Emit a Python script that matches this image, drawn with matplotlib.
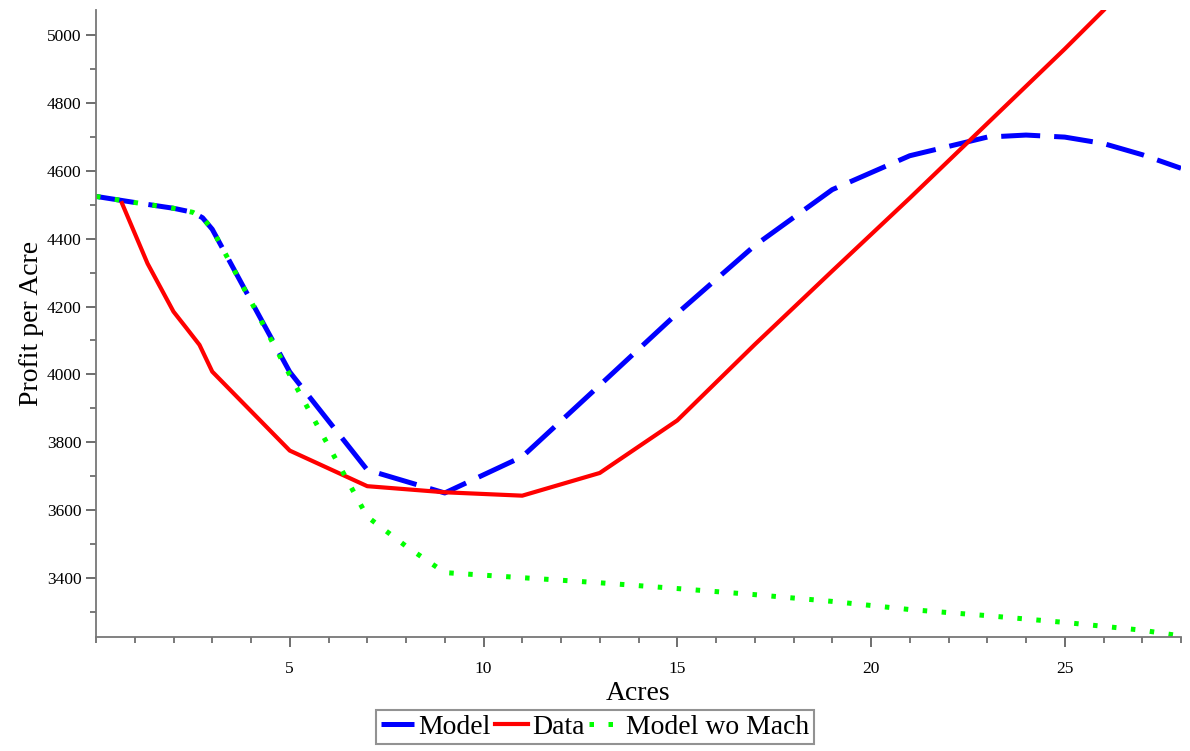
import matplotlib
matplotlib.use("Agg")
import matplotlib.pyplot as plt
from matplotlib.ticker import MultipleLocator, FixedLocator

# ---- data ----
model_x = [0, 1, 2, 2.5, 2.75, 3, 4, 5, 7, 9, 11, 13, 15, 17, 19, 21, 23, 24, 25, 26, 27, 28]
model_y = [4525, 4507, 4490, 4478, 4462, 4428, 4217, 4007, 3718, 3650, 3757, 3968, 4180, 4380,
           4545, 4645, 4700, 4706, 4700, 4681, 4648, 4608]

data_x = [0.67, 1.33, 1.67, 2.0, 2.33, 2.67, 3.0, 5, 7, 9, 11, 13, 15, 17, 19, 21, 23, 25, 26]
data_y = [4505, 4327, 4255, 4185, 4137, 4087, 4008, 3775, 3670, 3652, 3642, 3709, 3864,
          4088, 4305, 4520, 4740, 4960, 5074]

nomach_x = [0, 1, 2, 2.5, 2.75, 3, 4, 5, 7, 8, 9, 11, 13, 15, 17, 19, 21, 23, 25, 27, 28]
nomach_y = [4525, 4507, 4490, 4478, 4462, 4428, 4215, 3998, 3580, 3493, 3415, 3400, 3385,
            3368, 3350, 3330, 3306, 3288, 3268, 3245, 3228]

y_ticks = [3400, 3600, 3800, 4000, 4200, 4400, 4600, 4800, 5000]
x_ticks = [5, 10, 15, 20, 25]

serif = ["Liberation Serif", "DejaVu Serif"]

fig = plt.figure(figsize=(11.9, 7.51), dpi=100)
ax = fig.add_axes([96 / 1190, 1 - 637 / 751, (1181 - 96) / 1190, (637 - 10) / 751])

ax.plot(model_x, model_y, color="#0000FF", lw=3.6, linestyle=(0, (7.8, 2.8)),
        label="Model", solid_joinstyle="round")
ax.plot(data_x, data_y, color="#FF0000", lw=3.0, label="Data",
        solid_joinstyle="round")
ax.plot(nomach_x, nomach_y, color="#00FF00", lw=3.6, linestyle=(0, (0.9, 2.9)),
        label="Model wo Mach")

ax.set_xlim(0, 28)
ax.set_ylim(3225, 5075)

for s in ["top", "right"]:
    ax.spines[s].set_visible(False)
for s in ["left", "bottom"]:
    ax.spines[s].set_color("#777777")
    ax.spines[s].set_linewidth(1.3)

ax.xaxis.set_major_locator(FixedLocator(x_ticks))
ax.xaxis.set_minor_locator(MultipleLocator(1))
ax.yaxis.set_major_locator(FixedLocator(y_ticks))
ax.yaxis.set_minor_locator(MultipleLocator(100))
ax.tick_params(which="major", length=7, width=1.2, color="#555555", labelsize=12.5,
               direction="out")
ax.tick_params(which="minor", length=4.5, width=1.1, color="#555555", direction="out")
ax.tick_params(axis="x", pad=10)
for lab in ax.get_xticklabels() + ax.get_yticklabels():
    lab.set_family(serif)

ax.set_xlabel("Acres", fontsize=20, family=serif, labelpad=3)
ax.set_ylabel("Profit per Acre", fontsize=20, family=serif, labelpad=2)

leg = fig.legend(loc="center", bbox_to_anchor=(0.5, 0.032), ncol=3, frameon=True,
                 fancybox=False, prop={"family": serif, "size": 20},
                 handlelength=1.2, handletextpad=0.15, columnspacing=0.15,
                 borderpad=0.15, borderaxespad=0)
leg.get_frame().set_edgecolor("#777777")
leg.get_frame().set_linewidth(1.5)

fig.savefig("out.png", dpi=100)
